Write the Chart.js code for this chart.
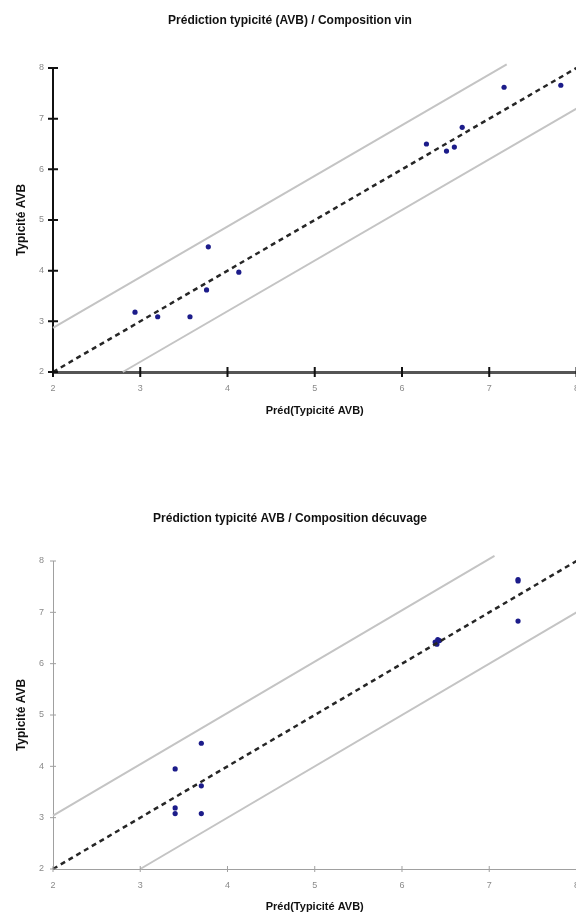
<!DOCTYPE html>
<html>
<head>
<meta charset="utf-8">
<script src="https://cdn.jsdelivr.net/npm/chart.js@4"></script>
<style>
  html, body { margin: 0; padding: 0; background: #fff; overflow: hidden; width: 576px; height: 915px; }
  .box { position: absolute; left: 0; width: 590px; }
  #c1box { top: 0; height: 420px; }
  #c2box { top: 440px; height: 475px; }
</style>
</head>
<body>
<div class="box" id="c1box"><canvas id="chart1" width="590" height="420"></canvas></div>
<div class="box" id="c2box"><canvas id="chart2" width="590" height="475"></canvas></div>
<script>
// axis ticks (both charts)
const axisTicks = [2, 3, 4, 5, 6, 7, 8];

// chart 1 : composition vin
const predVin = [2.94, 3.20, 3.57, 3.76, 3.78, 4.13, 6.28, 6.51, 6.60, 6.69, 7.17, 7.82];
const obsVin  = [3.18, 3.09, 3.09, 3.62, 4.47, 3.97, 6.50, 6.36, 6.44, 6.83, 7.62, 7.66];
const diagVin  = [[2, 2], [8, 8]];
const upperVin = [[2, 2.87], [7.2, 8.07]];
const lowerVin = [[2.8, 2], [8, 7.2]];

// chart 2 : composition decuvage
const predDec = [3.40, 3.40, 3.40, 3.70, 3.70, 3.70, 6.38, 6.41, 6.43, 6.40, 7.33, 7.33, 7.33];
const obsDec  = [3.95, 3.19, 3.08, 4.45, 3.62, 3.08, 6.42, 6.47, 6.45, 6.38, 7.61, 7.64, 6.83];
const diagDec  = [[2, 2], [8, 8]];
const upperDec = [[2, 3.04], [7.06, 8.1]];
const lowerDec = [[3, 2], [8, 7]];

const FONT = "'Liberation Sans', Arial, sans-serif";

const toPts = (xs, ys) => xs.map((x, i) => ({ x: x, y: ys[i] }));
const toLine = arr => arr.map(p => ({ x: p[0], y: p[1] }));

// small ticks crossing the axis lines
const crossTicks = {
  id: 'crossTicks',
  afterDraw(chart, args, opts) {
    const ctx = chart.ctx;
    const xs = chart.scales.x, ys = chart.scales.y;
    const area = chart.chartArea;
    ctx.save();
    ctx.strokeStyle = opts.color;
    ctx.lineWidth = opts.width;
    ctx.beginPath();
    axisTicks.forEach(v => {
      const px = xs.getPixelForValue(v);
      ctx.moveTo(px, area.bottom - opts.len);
      ctx.lineTo(px, area.bottom + opts.len);
      const py = ys.getPixelForValue(v);
      ctx.moveTo(area.left - opts.len, py);
      ctx.lineTo(area.left + opts.len, py);
    });
    ctx.stroke();
    ctx.restore();
  }
};

function makeChart(id, cfg) {
  const lineDs = (data, color, width, dash) => ({
    type: 'scatter',
    data: toLine(data),
    showLine: true,
    borderColor: color,
    borderWidth: width,
    borderDash: dash,
    pointRadius: 0,
    clip: false
  });

  return new Chart(document.getElementById(id), {
    type: 'scatter',
    data: {
      datasets: [
        lineDs(cfg.upper, '#c4c4c4', 2, []),
        lineDs(cfg.lower, '#c4c4c4', 2, []),
        lineDs(cfg.diag, '#262626', 2.5, [5, 4]),
        {
          data: toPts(cfg.xs, cfg.ys),
          backgroundColor: '#1c1c8a',
          borderColor: '#1c1c8a',
          pointRadius: 2.6,
          borderWidth: 0
        }
      ]
    },
    options: {
      responsive: false,
      animation: false,
      layout: { padding: { right: 10 } },
      plugins: {
        legend: { display: false },
        tooltip: { enabled: false },
        title: {
          display: true,
          text: cfg.title,
          color: '#111',
          font: { family: FONT, size: 12, weight: 'bold', lineHeight: 1.2 },
          padding: cfg.titlePad
        },
        crossTicks: cfg.ticks
      },
      scales: {
        x: {
          type: 'linear',
          min: 2, max: 8,
          afterFit: s => { s.height = cfg.xBox; },
          afterBuildTicks: s => { s.ticks = axisTicks.map(v => ({ value: v })); },
          grid: { display: false, drawTicks: false },
          border: { display: true, color: cfg.xBorder, width: cfg.xBorderW },
          ticks: { color: '#8a8a8a', font: { family: FONT, size: 9 }, padding: 11, maxRotation: 0 },
          title: {
            display: true,
            text: 'Préd(Typicité AVB)',
            color: '#111',
            font: { family: FONT, size: 11, weight: 'bold', lineHeight: 1.2 },
            padding: { top: 0, bottom: cfg.xTitlePad }
          }
        },
        y: {
          type: 'linear',
          min: 2, max: 8,
          afterFit: s => { s.width = 53; },
          afterBuildTicks: s => { s.ticks = axisTicks.map(v => ({ value: v })); },
          grid: { display: false, drawTicks: false },
          border: { display: true, color: cfg.yBorder, width: cfg.yBorderW },
          ticks: { color: '#8a8a8a', font: { family: FONT, size: 9 }, padding: 9 },
          title: {
            display: true,
            text: 'Typicité AVB',
            color: '#111',
            font: { family: FONT, size: 12, weight: 'bold', lineHeight: 1.2 },
            padding: { top: 14.8, bottom: 0 }
          }
        }
      }
    },
    plugins: [crossTicks]
  });
}

makeChart('chart1', {
  title: 'Prédiction typicité (AVB) / Composition vin',
  titlePad: { top: 13.8, bottom: 39.8 },
  xs: predVin, ys: obsVin,
  diag: diagVin, upper: upperVin, lower: lowerVin,
  xBox: 48, xTitlePad: 2.4,
  xBorder: '#555', xBorderW: 3,
  yBorder: '#111', yBorderW: 2,
  ticks: { color: '#111', width: 2, len: 5 }
});

makeChart('chart2', {
  title: 'Prédiction typicité AVB / Composition décuvage',
  titlePad: { top: 71.8, bottom: 34.8 },
  xs: predDec, ys: obsDec,
  diag: diagDec, upper: upperDec, lower: lowerDec,
  xBox: 46, xTitlePad: 1.4,
  xBorder: '#a0a0a0', xBorderW: 1,
  yBorder: '#a0a0a0', yBorderW: 1,
  ticks: { color: '#a0a0a0', width: 1, len: 3 }
});
</script>
</body>
</html>
